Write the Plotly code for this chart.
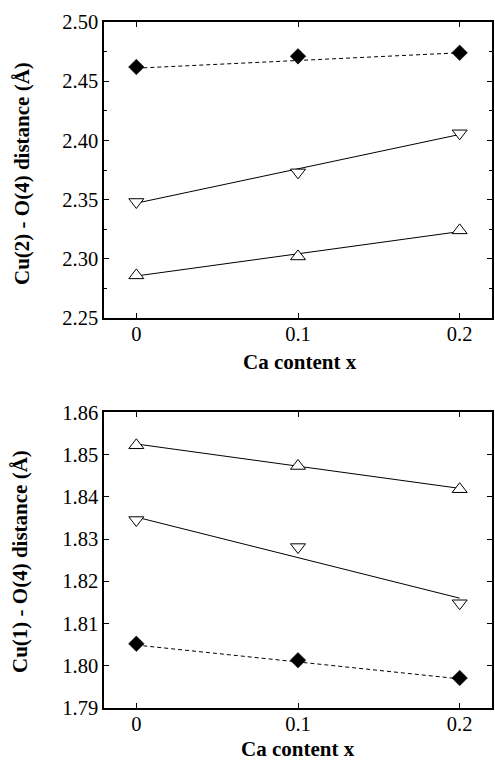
import plotly.graph_objects as go

# ---- data ----
x_vals = [0.0, 0.1, 0.2]
fit_x = [0.0, 0.2]

# top panel: Cu(2) - O(4)
top_diamond = [2.462, 2.471, 2.474]
top_down = [2.348, 2.373, 2.406]
top_up = [2.286, 2.302, 2.324]
top_diamond_fit = [2.461, 2.474]
top_down_fit = [2.347, 2.405]
top_up_fit = [2.2855, 2.323]

# bottom panel: Cu(1) - O(4)
bot_up = [1.8522, 1.8473, 1.8418]
bot_down = [1.8345, 1.8281, 1.8148]
bot_diamond = [1.8052, 1.8013, 1.7971]
bot_up_fit = [1.8525, 1.8420]
bot_down_fit = [1.8352, 1.8160]
bot_diamond_fit = [1.8049, 1.7969]

x_ticks = [0, 0.1, 0.2]
x_ticklabels = ["0", "0.1", "0.2"]
top_yticks = [2.25, 2.30, 2.35, 2.40, 2.45, 2.50]
bot_yticks = [1.79, 1.80, 1.81, 1.82, 1.83, 1.84, 1.85, 1.86]

x_title = "Ca content x"
top_ytitle = "Cu(2) - O(4) distance (Å)"
bot_ytitle = "Cu(1) - O(4) distance (Å)"

FONT = "'Liberation Serif', 'Times New Roman', serif"

fig = go.Figure()

def add_panel(xa, ya, diamond, down, up, diamond_fit, down_fit, up_fit):
    fig.add_trace(go.Scatter(x=fit_x, y=diamond_fit, mode="lines", xaxis=xa, yaxis=ya,
                             line=dict(color="black", width=1, dash="4px,3px"), showlegend=False))
    fig.add_trace(go.Scatter(x=fit_x, y=down_fit, mode="lines", xaxis=xa, yaxis=ya,
                             line=dict(color="black", width=1), showlegend=False))
    fig.add_trace(go.Scatter(x=fit_x, y=up_fit, mode="lines", xaxis=xa, yaxis=ya,
                             line=dict(color="black", width=1), showlegend=False))
    fig.add_trace(go.Scatter(x=x_vals, y=diamond, mode="markers", xaxis=xa, yaxis=ya,
                             marker=dict(symbol="diamond", size=12, color="black",
                                         line=dict(color="black", width=0.5)), showlegend=False))
    fig.add_trace(go.Scatter(x=x_vals, y=down, mode="markers", xaxis=xa, yaxis=ya,
                             marker=dict(symbol="triangle-down", size=13, color="white",
                                         line=dict(color="black", width=1)), showlegend=False))
    fig.add_trace(go.Scatter(x=x_vals, y=up, mode="markers", xaxis=xa, yaxis=ya,
                             marker=dict(symbol="triangle-up", size=13, color="white",
                                         line=dict(color="black", width=1)), showlegend=False))

add_panel("x", "y", top_diamond, top_down, top_up, top_diamond_fit, top_down_fit, top_up_fit)
add_panel("x2", "y2", bot_diamond, bot_down, bot_up, bot_diamond_fit, bot_down_fit, bot_up_fit)

tickfont = dict(family=FONT, size=20.5, color="black")

xaxis_common = dict(range=[-0.02, 0.22], tickvals=x_ticks, ticktext=x_ticklabels,
                    ticks="inside", ticklen=5, tickwidth=1, tickcolor="black",
                    ticklabelstandoff=-3,
                    showline=True, linecolor="black", linewidth=1.5, mirror="allticks",
                    showgrid=False, zeroline=False, automargin=False, tickfont=tickfont)

yaxis_common = dict(ticks="inside", ticklen=5, tickwidth=1, tickcolor="black",
                    showline=True, linecolor="black", linewidth=1.5, mirror="allticks",
                    showgrid=False, zeroline=False, automargin=False, tickfont=tickfont)

fig.update_layout(
    width=495, height=760,
    font=dict(family=FONT, color="black"),
    margin=dict(l=104, r=3, t=22, b=52),
    plot_bgcolor="white", paper_bgcolor="white",
    xaxis=dict(domain=[0, 1], anchor="y", **xaxis_common),
    yaxis=dict(domain=[0.5685, 1.0], anchor="x", range=[2.25, 2.50],
               tickvals=top_yticks, ticktext=[f"{v:.2f}" for v in top_yticks],
               minor=dict(dtick=0.025, ticks="inside", ticklen=3, tickcolor="black"),
               **yaxis_common),
    xaxis2=dict(domain=[0, 1], anchor="y2", **xaxis_common),
    yaxis2=dict(domain=[0.0, 0.431], anchor="x2", range=[1.79, 1.86],
                tickvals=bot_yticks, ticktext=[f"{v:.2f}" for v in bot_yticks],
                **yaxis_common),
)

pw = 495 - 104 - 3
ph = 760 - 22 - 52
def px_x(px):
    return (px - 104) / pw
def px_y(py):
    return (760 - 52 - py) / ph

title_font = dict(family=FONT, size=21, color="black")
fig.add_annotation(text=f"<b>{x_title}</b>", x=px_x(300), y=px_y(362), xref="paper", yref="paper",
                   showarrow=False, font=title_font, xanchor="center", yanchor="middle")
fig.add_annotation(text=f"<b>{x_title}</b>", x=px_x(298), y=px_y(749), xref="paper", yref="paper",
                   showarrow=False, font=title_font, xanchor="center", yanchor="middle")
fig.add_annotation(text=f"<b>{top_ytitle}</b>", x=px_x(22), y=px_y(174), xref="paper", yref="paper",
                   showarrow=False, font=title_font, textangle=-90, xanchor="center", yanchor="middle")
fig.add_annotation(text=f"<b>{bot_ytitle}</b>", x=px_x(20), y=px_y(562), xref="paper", yref="paper",
                   showarrow=False, font=title_font, textangle=-90, xanchor="center", yanchor="middle")

fig.write_html("out.html")
